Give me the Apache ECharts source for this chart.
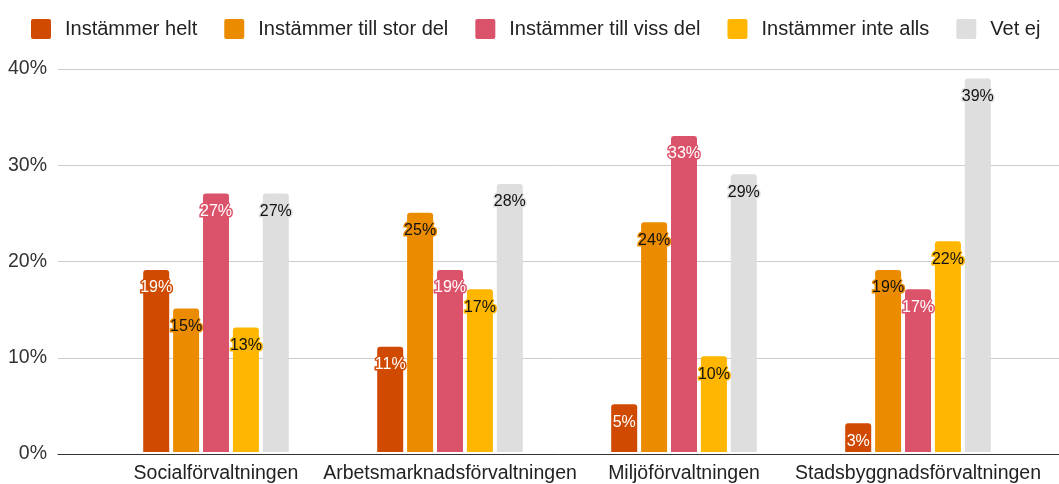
<!DOCTYPE html>
<html>
<head>
<meta charset="utf-8">
<script src="https://cdn.jsdelivr.net/npm/echarts@6/dist/echarts.min.js"></script>
<style>
  html, body { margin: 0; padding: 0; background: #fff; }
  #main { width: 1059px; height: 484px; }
</style>
</head>
<body>
<div id="main"></div>
<script>
// kategorier och serier (procent)
const categories = ['Socialförvaltningen', 'Arbetsmarknadsförvaltningen', 'Miljöförvaltningen', 'Stadsbyggnadsförvaltningen']
const seriesNames = ['Instämmer helt', 'Instämmer till stor del', 'Instämmer till viss del', 'Instämmer inte alls', 'Vet ej']
const helt = [19, 11, 5, 3]
const storDel = [15, 25, 24, 19]
const vissDel = [27, 19, 33, 17]
const inteAlls = [13, 17, 10, 22]
const vetEj = [27, 28, 29, 39]
const yTicks = [0, 10, 20, 30, 40]

const values = [helt, storDel, vissDel, inteAlls, vetEj]
const colors = ['#D04A02', '#EB8C00', '#DB536A', '#FFB600', '#DEDEDE']
const labelColors = ['#fff', '#111', '#fff', '#111', '#111']
const font = 'Liberation Sans, Arial, sans-serif'
// ruta med lätt rundade hörn
const squareIcon = 'path://M2,0 H18 Q20,0 20,2 V18 Q20,20 18,20 H2 Q0,20 0,18 V2 Q0,0 2,0 Z'

let myChart = echarts.init(document.getElementById('main'))

myChart.setOption({
  animation: false,
  textStyle: { fontFamily: font },
  legend: {
    top: 14,
    left: 26,
    icon: squareIcon,
    itemWidth: 20,
    itemHeight: 20,
    itemGap: 27,
    textStyle: { fontSize: 20, color: '#222', padding: [0, 0, 0, 9], fontFamily: font },
    data: seriesNames
  },
  grid: [
    // rutnät och y-axel över hela bredden
    { left: 58, right: 0, top: 69, bottom: 30 },
    // staplarna
    { left: 99, right: 24, top: 69, bottom: 30 }
  ],
  xAxis: [
    {
      gridIndex: 0, type: 'value', min: 0, max: 1,
      axisLine: { show: true, lineStyle: { color: '#333', width: 1 } },
      axisTick: { show: false }, axisLabel: { show: false }, splitLine: { show: false }
    },
    {
      gridIndex: 1, type: 'category', data: categories,
      axisLine: { show: false }, axisTick: { show: false },
      axisLabel: { interval: 0, color: '#222', fontSize: 19.5, margin: 12, fontFamily: font }
    }
  ],
  yAxis: [
    {
      gridIndex: 0, type: 'value', min: yTicks[0], max: yTicks[yTicks.length - 1], interval: 10,
      axisLine: { show: false }, axisTick: { show: false },
      axisLabel: { formatter: '{value}%', color: '#333', fontSize: 19.5, margin: 11, fontFamily: font },
      splitLine: { lineStyle: { color: '#ccc', width: 1 } }
    },
    {
      gridIndex: 1, type: 'value', min: yTicks[0], max: yTicks[yTicks.length - 1], interval: 10,
      show: false, splitLine: { show: false }
    }
  ],
  series: seriesNames.map((name, i) => ({
    name: name,
    type: 'bar',
    xAxisIndex: 1,
    yAxisIndex: 1,
    barWidth: 26,
    barGap: '15%',
    data: values[i],
    itemStyle: { color: colors[i], borderRadius: [3, 3, 0, 0] },
    label: {
      show: true,
      position: 'insideTop',
      distance: 10,
      formatter: '{c}%',
      fontSize: 16,
      fontFamily: font,
      color: labelColors[i],
      textBorderColor: colors[i],
      textBorderWidth: 3
    }
  }))
})
</script>
</body>
</html>
